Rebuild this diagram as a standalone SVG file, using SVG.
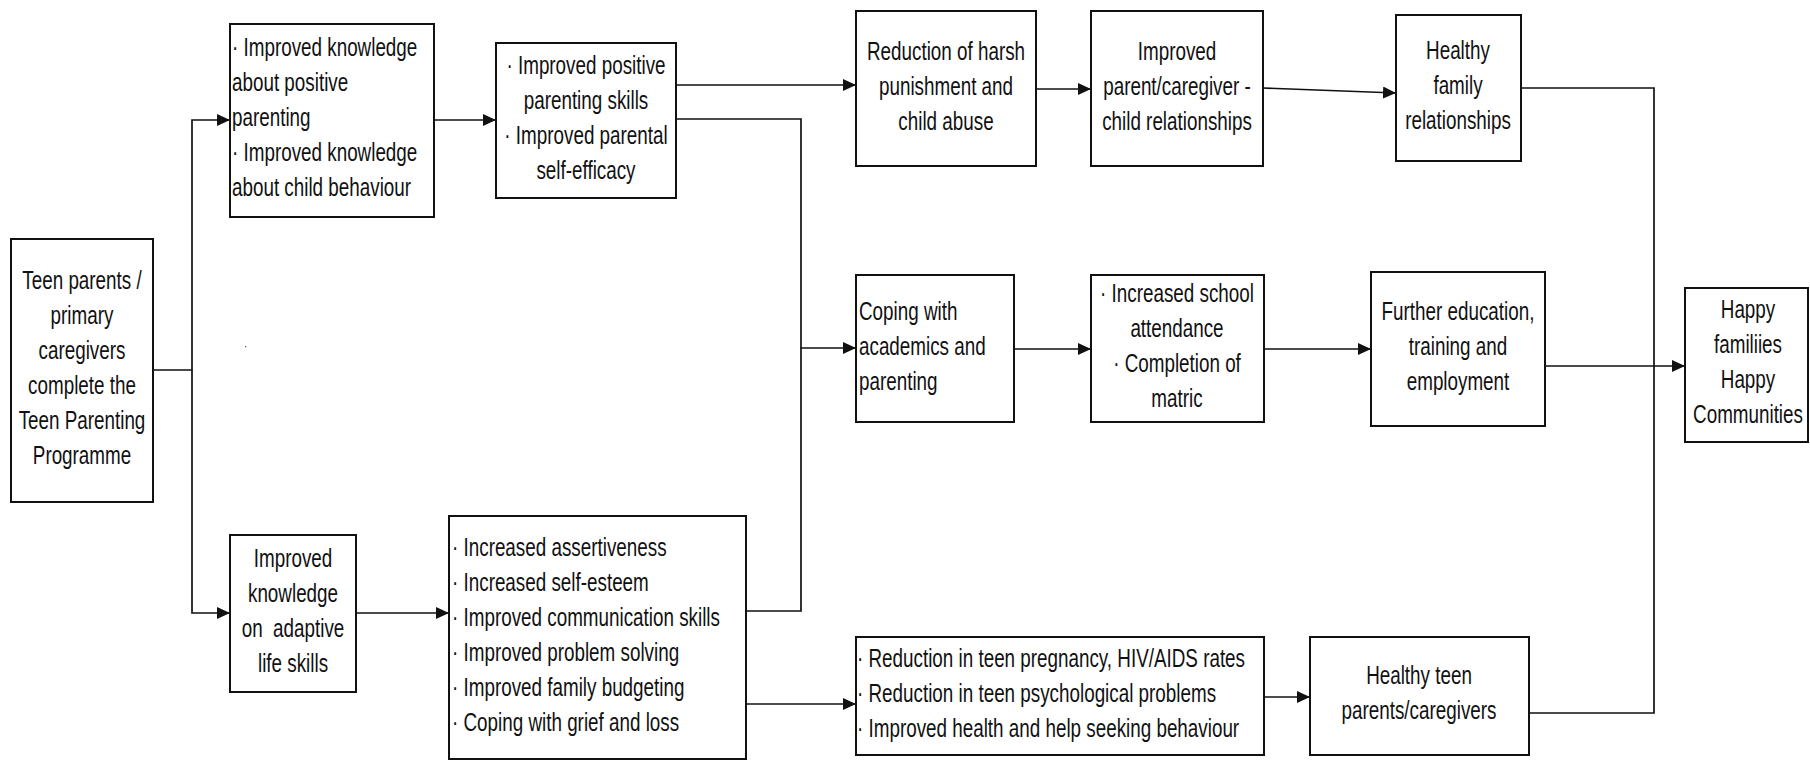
<svg xmlns="http://www.w3.org/2000/svg" width="1810" height="764" viewBox="0 0 1810 764">
<style>
.box{fill:#fff;stroke:#111;stroke-width:2}
.t{font-family:"Liberation Sans",Arial,sans-serif;font-size:26px;fill:#111;white-space:pre}
.c{text-anchor:middle}
.l{text-anchor:start}
.con{fill:none;stroke:#111;stroke-width:1.7}
</style>
<defs>
<marker id="ah" markerUnits="userSpaceOnUse" markerWidth="14" markerHeight="12" refX="13" refY="6" orient="auto">
<path d="M0,0 L13,6 L0,12 z" fill="#111"/>
</marker>
</defs>
<rect width="1810" height="764" fill="#fff"/>
<g id="connectors">
<path class="con" d="M153,370 H192 V120 H230" marker-end="url(#ah)"/>
<path class="con" d="M192,370 V613 H230" marker-end="url(#ah)"/>
<path class="con" d="M434,120 H496" marker-end="url(#ah)"/>
<path class="con" d="M676,85 H856" marker-end="url(#ah)"/>
<path class="con" d="M676,119 H801 V348 H856" marker-end="url(#ah)"/>
<path class="con" d="M746,611 H801 V348"/>
<path class="con" d="M1036,89 H1091" marker-end="url(#ah)"/>
<path class="con" d="M1263,88 L1396,93" marker-end="url(#ah)"/>
<path class="con" d="M1521,88 H1654 V366"/>
<path class="con" d="M1014,349 H1091" marker-end="url(#ah)"/>
<path class="con" d="M1264,349 H1371" marker-end="url(#ah)"/>
<path class="con" d="M1545,366 H1685" marker-end="url(#ah)"/>
<path class="con" d="M356,613 H449" marker-end="url(#ah)"/>
<path class="con" d="M746,704 H856" marker-end="url(#ah)"/>
<path class="con" d="M1264,697 H1310" marker-end="url(#ah)"/>
<path class="con" d="M1529,713 H1654 V366"/>
</g>
<g id="teen">
<rect class="box" x="11" y="239" width="142" height="263"/>
<text class="t c" transform="translate(82,0) scale(0.725,1)"><tspan x="0" y="289">Teen parents /</tspan><tspan x="0" y="324">primary</tspan><tspan x="0" y="359">caregivers</tspan><tspan x="0" y="394">complete the</tspan><tspan x="0" y="429">Teen Parenting</tspan><tspan x="0" y="464">Programme</tspan></text>
</g>
<g id="knowledge">
<rect class="box" x="230" y="24" width="204" height="193"/>
<text class="t l" transform="translate(232,0) scale(0.725,1)"><tspan x="0" y="56">· Improved knowledge</tspan><tspan x="0" y="91">about positive</tspan><tspan x="0" y="126">parenting</tspan><tspan x="0" y="161">· Improved knowledge</tspan><tspan x="0" y="196">about child behaviour</tspan></text>
</g>
<g id="skills">
<rect class="box" x="496" y="43" width="180" height="155"/>
<text class="t c" transform="translate(586,0) scale(0.725,1)"><tspan x="0" y="74">· Improved positive</tspan><tspan x="0" y="109">parenting skills</tspan><tspan x="0" y="144">· Improved parental</tspan><tspan x="0" y="179">self-efficacy</tspan></text>
</g>
<g id="harsh">
<rect class="box" x="856" y="11" width="180" height="155"/>
<text class="t c" transform="translate(946,0) scale(0.725,1)"><tspan x="0" y="60">Reduction of harsh</tspan><tspan x="0" y="95">punishment and</tspan><tspan x="0" y="130">child abuse</tspan></text>
</g>
<g id="relationship">
<rect class="box" x="1091" y="11" width="172" height="155"/>
<text class="t c" transform="translate(1177,0) scale(0.725,1)"><tspan x="0" y="60">Improved</tspan><tspan x="0" y="95">parent/caregiver -</tspan><tspan x="0" y="130">child relationships</tspan></text>
</g>
<g id="healthyfamily">
<rect class="box" x="1396" y="15" width="125" height="146"/>
<text class="t c" transform="translate(1458,0) scale(0.725,1)"><tspan x="0" y="59">Healthy</tspan><tspan x="0" y="94">family</tspan><tspan x="0" y="129">relationships</tspan></text>
</g>
<g id="coping">
<rect class="box" x="856" y="275" width="158" height="147"/>
<text class="t l" transform="translate(859,0) scale(0.725,1)"><tspan x="0" y="320">Coping with</tspan><tspan x="0" y="355">academics and</tspan><tspan x="0" y="390">parenting</tspan></text>
</g>
<g id="school">
<rect class="box" x="1091" y="275" width="173" height="147"/>
<text class="t c" transform="translate(1177,0) scale(0.725,1)"><tspan x="0" y="302">· Increased school</tspan><tspan x="0" y="337">attendance</tspan><tspan x="0" y="372">· Completion of</tspan><tspan x="0" y="407">matric</tspan></text>
</g>
<g id="further">
<rect class="box" x="1371" y="272" width="174" height="154"/>
<text class="t c" transform="translate(1458,0) scale(0.725,1)"><tspan x="0" y="320">Further education,</tspan><tspan x="0" y="355">training and</tspan><tspan x="0" y="390">employment</tspan></text>
</g>
<g id="happy">
<rect class="box" x="1685" y="288" width="123" height="154"/>
<text class="t c" transform="translate(1748,0) scale(0.725,1)"><tspan x="0" y="318">Happy</tspan><tspan x="0" y="353">familiies</tspan><tspan x="0" y="388">Happy</tspan><tspan x="0" y="423">Communities</tspan></text>
</g>
<g id="adaptive">
<rect class="box" x="230" y="535" width="126" height="157"/>
<text class="t c" transform="translate(293,0) scale(0.725,1)"><tspan x="0" y="567">Improved</tspan><tspan x="0" y="602">knowledge</tspan><tspan x="0" y="637">on  adaptive</tspan><tspan x="0" y="672">life skills</tspan></text>
</g>
<g id="lifeskills">
<rect class="box" x="449" y="516" width="297" height="243"/>
<text class="t l" transform="translate(452,0) scale(0.725,1)"><tspan x="0" y="556">· Increased assertiveness</tspan><tspan x="0" y="591">· Increased self-esteem</tspan><tspan x="0" y="626">· Improved communication skills</tspan><tspan x="0" y="661">· Improved problem solving</tspan><tspan x="0" y="696">· Improved family budgeting</tspan><tspan x="0" y="731">· Coping with grief and loss</tspan></text>
</g>
<g id="reduction">
<rect class="box" x="856" y="637" width="408" height="118"/>
<text class="t l" transform="translate(857,0) scale(0.725,1)"><tspan x="0" y="667">· Reduction in teen pregnancy, HIV/AIDS rates</tspan><tspan x="0" y="702">· Reduction in teen psychological problems</tspan><tspan x="0" y="737">· Improved health and help seeking behaviour</tspan></text>
</g>
<g id="healthyteen">
<rect class="box" x="1310" y="637" width="219" height="118"/>
<text class="t c" transform="translate(1419,0) scale(0.725,1)"><tspan x="0" y="684">Healthy teen</tspan><tspan x="0" y="719">parents/caregivers</tspan></text>
</g>
<rect x="245" y="346" width="1.2" height="1.2" fill="#555"/>
</svg>
